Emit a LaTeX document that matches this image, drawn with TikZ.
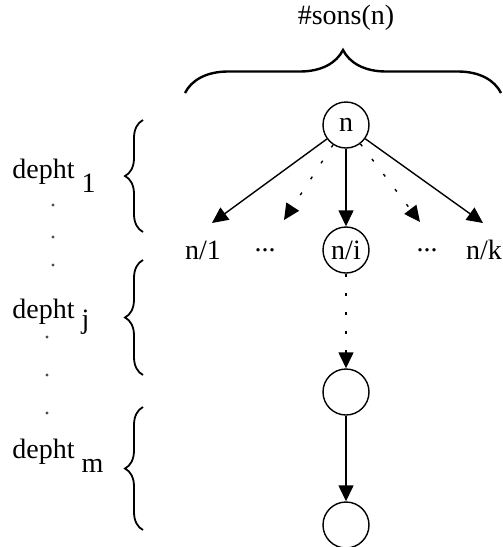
\documentclass[tikz,border=0pt]{standalone}
\usepackage{fontspec}
\setmainfont{Liberation Serif}
\usepackage{tikz}
\usetikzlibrary{positioning,arrows.meta,decorations.pathreplacing}

\begin{document}
\begin{tikzpicture}[
x=0.5pt, y=-0.5pt,
font=\fontsize{14}{16}\selectfont,
vertex/.style={draw, circle, line width=0.7pt, minimum size=23pt, inner sep=0pt},
leaf/.style={inner sep=1pt},
deplabel/.style={anchor=base west, inner sep=0pt},
arr/.style={-{Triangle[length=8pt,width=7.5pt]}, line width=0.7pt},
dotarr/.style={arr, dash pattern=on 1.5pt off 8pt},
bracetop/.style={decorate, decoration={brace, amplitude=21.5pt}, line width=1.2pt},
braceleft/.style={decorate, decoration={brace, amplitude=9pt}, line width=0.9pt}
]
\useasboundingbox (0,0) rectangle (503,547);
% top brace
\node (sons) at (346,18) {\#sons(n)};
\draw[bracetop] (185,93) -- (501,93);
% tree
\node[vertex] (n) at (346,125) {n};
\node[vertex] (ni) at (346,250) {n/i};
\node[vertex] (lo) at (346,392) {};
\node[vertex] (bot) at (346,525) {};
\node[leaf] (n1) at (203,250) {n/1};
\node[leaf] (nk) at (484,250) {n/k};
\node[leaf] (dl) at (265,250) {...};
\node[leaf] (dr) at (427,250) {...};
\coordinate (t1) at (212,223);
\coordinate (tl) at (284,220);
\coordinate (tr) at (420,222);
\coordinate (tk) at (483,223);
\draw[arr] (n) -- (t1);
\draw[dotarr] (n) -- (tl);
\draw[arr] (n) -- (ni);
\draw[dotarr] (n) -- (tr);
\draw[arr] (n) -- (tk);
\draw[dotarr] (ni) -- (lo);
\draw[arr] (lo) -- (bot);
% depths
\node[deplabel] (dep1) at (12,178) {depht \raisebox{-7pt}{1}};
\node[deplabel] (depj) at (12,318) {depht \raisebox{-5pt}{j}};
\node[deplabel] (depm) at (12,458) {depht \raisebox{-7pt}{m}};
\draw[braceleft] (143,232) -- (143,120);
\draw[braceleft] (143,375) -- (143,260);
\draw[braceleft] (143,530) -- (143,407);
\foreach \p in {(53,205),(53,237),(53,265),(47,337),(47,375),(47,413)}
  \fill[black!70] \p circle (0.8pt);
\end{tikzpicture}
\end{document}
